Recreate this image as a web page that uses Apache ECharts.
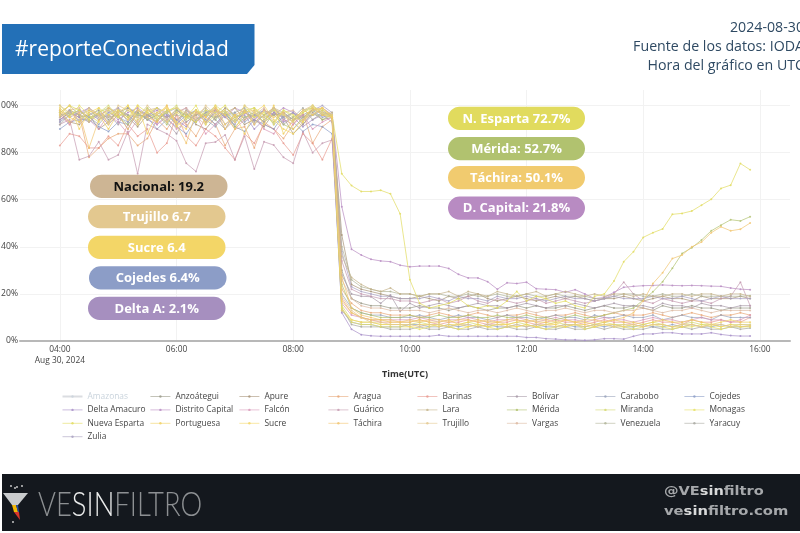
<!DOCTYPE html>
<html><head><meta charset="utf-8">
<style>html,body{margin:0;padding:0;background:#fff;overflow:hidden}#c{width:800px;height:533px;filter:blur(0.35px)}</style>
<script src="https://cdn.jsdelivr.net/npm/echarts@6/dist/echarts.min.js"></script>
</head><body><div id="c"></div>
<script>
// Readings every 10 minutes, 04:00-15:50 UTC. Line groups: 04:00-05:30, 05:40-07:10, 07:20-08:40, 08:50-09:50, 10:00-11:50, 12:00-13:50, 14:00-15:50.
const amazonas = []; // switched off in the reference legend, so nothing can be read
const anzoategui = [94,97,95,96,98,94,97,99,96,95,
 97,95,98,96,94,97,98,96,93,97,
 95,98,96,97,94,96,98,97,96,
 30,18,16,15,15,14,14,
 14,15,14,14,13,14,15,14,13,14,14,15,
 14,15,14,14,15,14,13,14,15,14,14,15,
 14,13,15,14,14,15,14,14,13,14,14,14];
const apure = [97,93,92,96,90,93,98,95,91,96,
 93,98,94,97,92,90,95,99,96,92,
 94,91,97,95,88,92,97,94,95,
 45,24,22,21,20,19,18,
 18,19,18,17,19,18,19,20,18,17,18,19,
 18,17,18,19,18,19,18,17,18,18,19,18,
 17,18,19,18,18,17,19,18,18,18,19,18];
const aragua = [97,92,96,78,82,86,88,88,83,86,
 94,90,96,92,87,95,92,83,90,91,
 82,93,90,86,92,97,84,91,94,
 22,16,13,12,12,11,11,
 11,10,11,12,11,10,11,12,11,10,11,11,
 12,11,10,11,11,12,11,10,11,12,11,11,
 11,12,11,10,11,12,11,10,11,11,12,11];
const barinas = [83,88,87,82,82,87,83,92,87,90,
 80,84,96,87,83,90,87,82,77,88,
 84,92,90,84,79,88,84,77,86,
 18,12,10,9,8,8,8,
 8,9,8,7,8,8,9,8,7,8,8,9,
 8,7,8,9,8,8,7,8,9,8,8,7,
 8,9,8,8,7,9,8,8,9,8,8,10];
const bolivar = [95,98,93,97,94,96,92,99,97,94,
 96,93,88,95,98,93,97,90,94,98,
 92,96,99,94,97,92,96,98,95,
 28,20,19,18.8,16,19.5,12.5,
 16,14,15,16,15,14,15,16,15,15,14,15,
 16,15,14,15,15,16,15,14,15,16,15,15,
 15,14,16,15,15,14,16,15,15,14,15,15];
const carabobo = [93,96,98,95,92,97,95,93,98,96,
 94,97,92,96,98,94,91,96,97,93,
 96,98,92,95,97,93,98,95,96,
 20,14,12,11,11,10,10,
 10,11,10,9,10,11,10,10,9,10,11,10,
 10,9,10,11,10,10,9,11,10,10,11,10,
 10,11,9,10,11,10,10,9,11,10,10,10];
const cojedes = [90,93,94,94,91,89,93,92,96,95,
 90,94,91,88,94,96,92,97,91,89,
 94,92,90,96,93,89,92,91,88,
 13,8,7,7,6,6,6,
 7,7,6,6,7,6,7,6,7,6,6,7,
 6,7,6,6,7,6,6,7,6,7,6,6,
 7,6,6,7,6,7,6,6,7,6,6,6.4];
const deltaAmacuro = [94,97,95,93,96,92,96,90,97,94,
 92,96,94,91,97,93,98,92,95,96,
 90,94,97,93,95,91,94,96,93,
 12,5,2.7,2.2,2,2,2,
 2,2,2,2.5,2,2,2,2,2,2,2,2,
 1.5,1.5,1,0.8,0.5,0.5,0.3,0.5,1,1,0.8,2,
 3,3,3.5,3.5,3,3,3,3.5,2.8,2.3,2.1,2.1];
const distritoCapital = [98,95,97,99,96,98,94,97,99,96,
 98,95,97,99,93,96,98,95,99,97,
 94,98,96,99,97,95,98,99,96,
 57,39,36.5,34.7,34,33.7,32.2,
 31.5,31.8,31.8,31.8,30.8,28.3,26.8,26.8,25.2,22,24.7,24.4,
 25,22.2,22,21.8,20.7,21.8,20,18,18.5,20.7,22.8,23.2,
 23.5,23.6,23.8,23.6,23.5,23.6,23.5,23.3,23.2,22.5,22,21.8];
const falcon = [96,92,98,94,90,96,93,88,94,97,
 92,95,90,93,96,88,92,96,90,94,
 96,90,88,94,92,96,90,93,95,
 16,11,10,9,9,9,9,
 9,10,9,8,9,9,10,9,8,9,9,10,
 9,8,9,10,9,9,8,9,10,9,9,8,
 9,10,9,9,8,9,10,9,9,8,9,11];
const guarico = [92,94,77,78.5,84.6,77,79,89,71,92,
 90,88,85,75.5,72,84,84.5,87.5,77,87,
 73,84.6,83.2,78,75.5,88.8,80,84,85.4,
 34,22,20,19,18,18,17,
 17,16,17,18,16,17,19,17,16,18,17,16,
 17,18,16,17,18,17,16,17,18,20,25,20,
 17,16,18,17,16,17,17,16,18,19,25,15];
const lara = [97,100,96,98,95,99,97,94,98,96,
 99,97,93,98,96,99,95,97,99,94,
 98,96,99,97,94,98,99,96,97,
 36,27,24,22,21,22.5,20,
 20,19,20,20,21,19,21,20,19,21,20,19,
 20,21,19,20,21,20,19,20,19,20,20,19,
 20,19,19,20,20,19,20,20,19,20,20,19];
const merida = [95,98,96,93,97,99,95,92,97,94,
 96,92,98,95,93,97,94,98,91,95,
 97,93,96,92,90,95,98,94,96,
 24,14,12,11,10,10,10,
 11,10,10,11,10,10,11,10,10,11,10,10,
 11,10,10,9,10,11,10,10,11,12,13,14,
 17.4,20.9,25.2,30.9,37.2,39.6,42.9,46.8,49.2,51.5,51,52.8];
const miranda = [100,96,98,94,97,100,95,98,96,99,
 95,97,100,94,98,96,100,97,94,98,
 99,96,93,98,95,97,100,96,95,
 15,9,8,8,7,7,7,
 7,8,7,7,6,7,8,7,6,7,7,8,
 7,6,7,8,7,7,6,7,8,7,7,6,
 7,8,7,6,7,8,7,7,6,7,7,7];
const monagas = [98,95,100,96,93,98,95,100,94,97,
 99,93,97,95,100,92,96,98,93,100,
 95,97,92,98,96,93,100,97,95,
 14,8,7,7,6,6,6,
 6,5,6,7,6,5,6,7,6,5,6,6,
 7,6,5,6,6,7,5,6,7,6,6,5,
 6,7,6,5,6,6,7,6,5,6,6,6];
const nuevaEsparta = [97,100,98,94,99,96,98,95,100,97,
 94,98,99,96,93,98,97,100,95,97,
 99,94,98,96,93,97,99,98,96,
 71,66,63.5,63.5,64,62.5,54,
 26,16,14,15,16,18,15,14,15,14,17,21,
 17,19,18,16,17,15,14,19,20,25.5,33.7,37.9,
 44,46,47.6,53.8,54.2,55.2,57.7,60.2,64.8,66.2,75.4,72.7];
const portuguesa = [99,95,93,98,96,90,97,100,92,98,
 96,100,91,95,98,93,99,96,90,97,
 98,92,100,88,94,98,96,99,95,
 17,12,10,9,9,8,8,
 8,9,8,8,9,7,8,9,8,8,7,8,
 9,8,8,7,9,8,8,7,8,9,8,8,
 7,8,9,8,8,9,8,7,8,9,8,8];
const sucre = [96,100,90,97,99,92,98,94,100,88,
 97,99,93,90,98,95,100,92,96,88,
 97,100,94,90,88,93,98,99,95,
 13,9,8,8,7,7,7,
 6,7,7,6,7,7,6,7,6,7,7,6,
 7,6,7,7,6,7,7,6,7,7,6,7,
 6,7,7,6,6,7,6,7,6,7,6,6.4];
const tachira = [98,93,97,82,94,99,96,90,98,95,
 93,100,92,84,97,95,99,90,96,98,
 92,98,95,97,90,94,99,96,95,
 27,14,11,10,9,9,8,
 9,8,9,9,8,9,9,8,9,8,9,9,
 8,9,9,8,9,8,9,9,8,9,10,12,
 17,24.4,29,35,36.5,40,42,46,48.5,46.8,47.5,50.1];
const trujillo = [100,97,94,99,96,93,100,98,95,100,
 96,93,99,97,94,100,96,98,93,100,
 97,95,99,96,93,98,100,97,96,
 19,13,10,8,8,7,7,
 7,6,7,7,6,7,7,6,7,7,6,7,
 6,7,7,6,7,7,6,7,7,6,7,7,
 6,7,7,6,7,7,6,7,7,6,7,6.7];
const vargas = [95,98,99,93,97,95,99,96,93,98,
 99,94,97,99,95,92,98,96,99,94,
 96,99,93,97,98,94,96,99,96,
 26,18,15,14,14,13,13,
 13,13,12,13,14,13,12,13,13,12,13,14,
 13,12,13,13,14,13,12,13,13,12,13,13,
 14,13,12,13,13,14,13,12,13,13,13,13];
const venezuela = [96,97,96,95,96,95,96,96,95,96,
 96,95,96,95,96,96,95,96,96,95,
 96,95,96,96,94,95,96,96,96,
 40,26,23,22,21,21,20,
 20,19,20,20,19,19,20,19,19,20,19,19,
 20,19,19,20,19,19,19,18,18,19,20,20,
 19,19,20,19,19,20,19,19,19,19,19,19.2];
const yaracuy = [92,96,98,94,97,93,98,96,92,99,
 94,97,99,93,96,98,94,90,97,99,
 93,96,98,92,95,99,94,97,96,
 14,7,6,6,6,5,5,
 5,6,5,5,6,5,5,6,5,5,6,5,
 5,6,5,5,6,5,5,6,5,6,5,5,
 5,6,5,5,6,5,6,5,5,6,5,5.5];
const zulia = [93,98,96,99,94,97,99,93,98,95,
 99,96,92,98,94,97,99,95,92,98,
 96,93,99,95,97,94,98,100,97,
 38,23,21,20,19,19,18,
 18,18,19,18,17,19,18,18,17,19,18,18,
 19,18,17,18,19,18,18,17,18,19,18,18,
 18,19,18,18,19,18,17,18,19,18,18,18];

const seriesNames = ['Amazonas','Anzoátegui','Apure','Aragua','Barinas','Bolívar','Carabobo','Cojedes','Delta Amacuro','Distrito Capital','Falcón','Guárico','Lara','Mérida','Miranda','Monagas','Nueva Esparta','Portuguesa','Sucre','Táchira','Trujillo','Vargas','Venezuela','Yaracuy','Zulia'];
const seriesValues = [amazonas,anzoategui,apure,aragua,barinas,bolivar,carabobo,cojedes,deltaAmacuro,distritoCapital,falcon,guarico,lara,merida,miranda,monagas,nuevaEsparta,portuguesa,sucre,tachira,trujillo,vargas,venezuela,yaracuy,zulia];
const seriesColors = ['#c9d3dc','#9a9a88','#a89478','#e8a878','#e89a90','#a89aa8','#9aa4bc','#8c9dc7','#a68fc8','#b88bc2','#d898b8','#c49ab0','#c4b48c','#b1c26f','#d4d870','#e6e064','#e1db5e','#f0d060','#f3d667','#f1c46f','#e3c88f','#dcb8a0','#b0b498','#a8a8a0','#a8a0c0'];
const onTop = ['Lara','Miranda','Monagas','Nueva Esparta','Portuguesa','Sucre','Táchira','Trujillo'];
const pillsLeft = [['Nacional: 19.2','#cdb594','#111'],['Trujillo 6.7','#e3c88f','#fff'],['Sucre 6.4','#f3d667','#fff'],['Cojedes 6.4%','#8c9dc7','#fff'],['Delta A: 2.1%','#a68fbf','#fff']];
const pillsRight = [['N. Esparta 72.7%','#e1db5e','#fff'],['Mérida: 52.7%','#b1c26f','#fff'],['Táchira: 50.1%','#f1cb6f','#fff'],['D. Capital: 21.8%','#b88bc2','#fff']];
const legendColumns = [[0,8,16,24],[1,9,17],[2,10,18],[3,11,19],[4,12,20],[5,13,21],[6,14,22],[7,15,23]];
const legendLeft = [61.5,150,239,328,417,506.5,595,684];

const times = [];
for (let h = 4; h < 16; h++) for (let m = 0; m < 60; m += 10)
  times.push('2024-08-30 ' + String(h).padStart(2,'0') + ':' + String(m).padStart(2,'0'));

const font = '"Open Sans"';
function pill(p, x, y, w, h) {
  return {type:'group', children:[
    {type:'rect', shape:{x:x,y:y,width:w,height:h,r:h/2}, style:{fill:p[1]}, z:20},
    {type:'text', x:x+w/2, y:y+h/2+0.5, style:{text:p[0], fill:p[2], font:'bold 13px '+font, textAlign:'center', textVerticalAlign:'middle'}, z:21}
  ]};
}
const leftY = [174.7,205,235.7,266.3,296.7], leftX = [90,88,88,89,88];
const rightY = [106.7,137,166,196.5];
const deco = [];
pillsLeft.forEach((p,i)=>deco.push(pill(p,leftX[i],leftY[i],137.5,23.2)));
pillsRight.forEach((p,i)=>deco.push(pill(p,448,rightY[i],137,23.2)));
// header
deco.push({type:'polygon', shape:{points:[[2,24],[254.5,24],[254.5,65],[247,74],[2,74]]}, style:{fill:'#2370b7'}, z:20});
deco.push({type:'text', x:15, y:50, style:{text:'#reporteConectividad', fill:'#fff', font:'21px '+font, textVerticalAlign:'middle'}, z:21});
[['2024-08-30',28],['Fuente de los datos: IODA',47],['Hora del gráfico en UTC',66]].forEach(t=>
  deco.push({type:'text', x:804, y:t[1], style:{text:t[0], fill:'#2f4a63', font:'14.2px '+font, textAlign:'right', textVerticalAlign:'middle'}, z:21}));
// footer
deco.push({type:'rect', shape:{x:2,y:474,width:798,height:57}, style:{fill:'#14181e'}, z:20});
deco.push({type:'polygon', shape:{points:[[3,493],[28,493],[18,505],[12,505]]}, style:{fill:'#c9cbcd'}, z:21});
deco.push({type:'polygon', shape:{points:[[12,505],[16,505],[18,512],[14,512]]}, style:{fill:'#f2b705'}, z:21});
deco.push({type:'polygon', shape:{points:[[16,505],[18,505],[19,512],[18,512]]}, style:{fill:'#2a4fa0'}, z:21});
deco.push({type:'polygon', shape:{points:[[14,512],[19,512],[20,520]]}, style:{fill:'#d9342b'}, z:21});
[[11,486],[17,487],[22,486],[13,522],[15,488]].forEach(d=>
  deco.push({type:'circle', shape:{cx:d[0],cy:d[1],r:0.9}, style:{fill:'#d8d8d8'}, z:21}));
deco.push({type:'text', x:38, y:505, scaleX:0.83, style:{
  text:'{a|VE}{b|SIN}{a|FILTRO}', textVerticalAlign:'middle',
  rich:{a:{fill:'#8d9093',font:'300 33px Lato'},b:{fill:'#eceded',font:'300 33px Lato'}}}, z:21});
const footRich = {a:{fill:'#a6a8ab',font:'bold 12.5px "DejaVu Sans"'},b:{fill:'#d8d9da',font:'bold 12.5px "DejaVu Sans"'}};
deco.push({type:'text', x:664, y:492, scaleX:1.165, style:{text:'{a|@VE}{b|sin}{a|filtro}', rich:footRich, textVerticalAlign:'middle'}, z:21});
deco.push({type:'text', x:664, y:512, scaleX:1.18, style:{text:'{a|ve}{b|sin}{a|filtro.com}', rich:footRich, textVerticalAlign:'middle'}, z:21});

const chart = echarts.init(document.getElementById('c'), null, {renderer:'canvas', width:800, height:533});
chart.setOption({
  animation:false,
  backgroundColor:'#fff',
  textStyle:{fontFamily:font},
  graphic:deco,
  legend: legendColumns.map((col,i)=>({
    orient:'vertical', left:legendLeft[i], top:392.5, padding:0, itemWidth:20, itemHeight:3, itemGap:5.4,
    selectedMode:false,
    selected:{'Amazonas':false},
    inactiveColor:'#c9d3dc',
    lineStyle:{width:0.8,opacity:0.75},
    textStyle:{fontFamily:font,fontSize:8.4,color:'#444'},
    data:col.map(k=>seriesNames[k])
  })),
  grid:{left:20,right:10,top:90,bottom:192,outerBoundsMode:'none'},
  xAxis:{
    type:'time', min:'2024-08-30 03:19', max:'2024-08-30 16:31', splitNumber:6,
    axisLine:{lineStyle:{color:'#b8b8b8',width:2}}, axisTick:{show:false},
    axisLabel:{color:'#444',fontSize:8.4,margin:3,lineHeight:11,hideOverlap:false,showMinLabel:false,showMaxLabel:false,
      formatter:function(v){const d=new Date(v);const h=d.getHours();
        if(d.getMinutes()!==0||h%2)return '';
        const s=String(h).padStart(2,'0')+':00';
        return h===4?s+'\nAug 30, 2024':s;}},
    splitLine:{show:true,showMinLine:false,showMaxLine:false,lineStyle:{color:'#f2f2f2',width:1}},
    minorSplitLine:{show:false},
    name:'Time(UTC)',nameLocation:'middle',nameGap:28.5,nameTextStyle:{fontFamily:font,fontWeight:'bold',fontSize:9,color:'#333'}
  },
  yAxis:{
    type:'value',min:0,max:106.6,interval:20,
    axisLine:{show:false},axisTick:{show:false},
    axisLabel:{color:'#444',fontSize:8.6,margin:2,showMaxLabel:false,formatter:'{value}%'},
    splitLine:{show:true,showMaxLine:false,lineStyle:{color:'#f2f2f2',width:1}}
  },
  series:seriesNames.map((n,i)=>({
    name:n,type:'line',showSymbol:true,symbol:'circle',symbolSize:2,
    z:onTop.includes(n)?3:2,
    color:seriesColors[i],
    lineStyle:{width:1,opacity:0.7},itemStyle:{opacity:0.8},
    data:seriesValues[i].map((v,j)=>[times[j],v])
  }))
});
</script></body></html>
